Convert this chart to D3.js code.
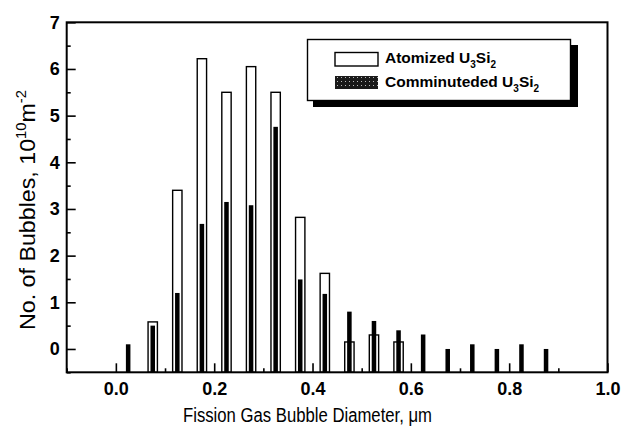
<!DOCTYPE html>
<html>
<head>
<meta charset="utf-8">
<script src="https://cdn.jsdelivr.net/npm/d3@7"></script>
<style>
  html, body { margin: 0; padding: 0; background: #fff; }
  svg { display: block; font-family: "Liberation Sans", Arial, sans-serif; }
</style>
</head>
<body>
<svg id="chart" width="622" height="432"></svg>
<script>
// ---- data ----
const binCenters = [0.025, 0.075, 0.125, 0.175, 0.225, 0.275, 0.325, 0.375, 0.425,
                    0.475, 0.525, 0.575, 0.625, 0.675, 0.725, 0.775, 0.825, 0.875];
const atomized   = [null, 0.58, 3.4, 6.22, 5.5, 6.05, 5.5, 2.82, 1.62,
                    0.15, 0.3, 0.15, null, null, null, null, null, null];
const comminuted = [0.1, 0.5, 1.2, 2.68, 3.15, 3.08, 4.76, 1.49, 1.18,
                    0.8, 0.6, 0.4, 0.31, 0.0, 0.1, 0.0, 0.1, 0.0];
const xTicks = [0.0, 0.2, 0.4, 0.6, 0.8, 1.0];
const xMinorTicks = [-0.1, 0.1, 0.3, 0.5, 0.7, 0.9];
const yTicks = [0, 1, 2, 3, 4, 5, 6, 7];
const yMinorTicks = [-0.5, 0.5, 1.5, 2.5, 3.5, 4.5, 5.5, 6.5];
const seriesNames = ["Atomized", "Comminuteded"];

// ---- layout ----
const svg = d3.select("#chart");
const L = 66.7, R = 607.5, T = 22.3, B = 372.3;
const x = d3.scaleLinear().domain([-0.1, 1.0]).range([L, R]);
const y = d3.scaleLinear().domain([-0.5, 7]).range([B, T]);

// defs: halftone pattern for legend swatch
const defs = svg.append("defs");
const pat = defs.append("pattern").attr("id", "dots").attr("width", 4).attr("height", 4)
  .attr("patternUnits", "userSpaceOnUse");
pat.append("rect").attr("width", 4).attr("height", 4).attr("fill", "#1a1a1a");
pat.append("rect").attr("x", 1).attr("y", 1).attr("width", 1).attr("height", 1).attr("fill", "#bbb");

// ---- bars ----
const openW = x(0.019) - x(0);
const solidW = x(0.0092) - x(0);
const gBars = svg.append("g");
binCenters.forEach((c, i) => {
  const v = atomized[i];
  if (v !== null) {
    gBars.append("rect")
      .attr("x", x(c) - openW / 2).attr("y", y(v))
      .attr("width", openW).attr("height", y(-0.5) - y(v))
      .attr("fill", "#fff").attr("stroke", "#000").attr("stroke-width", 1.4);
  }
});
binCenters.forEach((c, i) => {
  const v = comminuted[i];
  if (v !== null) {
    gBars.append("rect")
      .attr("x", x(c) - solidW / 2).attr("y", y(v))
      .attr("width", solidW).attr("height", y(-0.5) - y(v))
      .attr("fill", "#000");
  }
});

// ---- axes ----
const ax = svg.append("g").attr("stroke", "#000").attr("fill", "none");
ax.append("rect").attr("x", L).attr("y", T).attr("width", R - L).attr("height", B - T)
  .attr("stroke-width", 2);

const xAxis = d3.axisBottom(x).tickValues(xTicks).tickSize(-9).tickFormat(d3.format(".1f"));
const gx = svg.append("g").attr("transform", `translate(0,${B})`).call(xAxis);
gx.select(".domain").remove();
gx.selectAll(".tick line").attr("stroke-width", 1.6);
gx.selectAll(".tick text").attr("y", 10).attr("font-size", 18).attr("font-weight", "bold")
  .attr("font-family", "Liberation Sans, Arial, sans-serif").attr("fill", "#000");
const gxm = svg.append("g").attr("transform", `translate(0,${B})`)
  .call(d3.axisBottom(x).tickValues(xMinorTicks).tickSize(-4).tickFormat(""));
gxm.select(".domain").remove();
gxm.selectAll(".tick line").attr("stroke-width", 1.6);

const yAxis = d3.axisLeft(y).tickValues(yTicks).tickSize(-9).tickFormat(d3.format("d"));
const gy = svg.append("g").attr("transform", `translate(${L},0)`).call(yAxis);
gy.select(".domain").remove();
gy.selectAll(".tick line").attr("stroke-width", 1.6);
gy.selectAll(".tick text").attr("x", -7).attr("font-size", 18).attr("font-weight", "bold")
  .attr("font-family", "Liberation Sans, Arial, sans-serif").attr("fill", "#000");
const gym = svg.append("g").attr("transform", `translate(${L},0)`)
  .call(d3.axisLeft(y).tickValues(yMinorTicks).tickSize(-4).tickFormat(""));
gym.select(".domain").remove();
gym.selectAll(".tick line").attr("stroke-width", 1.6);

// ---- axis titles ----
svg.append("text").attr("x", (183 + 432) / 2).attr("y", 422)
  .attr("text-anchor", "middle").attr("font-size", 20).attr("fill", "#000")
  .attr("textLength", 249).attr("lengthAdjust", "spacingAndGlyphs")
  .text("Fission Gas Bubble Diameter, \u03bcm");

const yt = svg.append("text").attr("transform", "translate(35,210) rotate(-90)")
  .attr("text-anchor", "middle").attr("font-size", 22).attr("fill", "#000")
  .attr("textLength", 240).attr("lengthAdjust", "spacingAndGlyphs");
yt.append("tspan").text("No. of Bubbles, 10");
yt.append("tspan").attr("dy", -9).attr("font-size", 14).text("10");
yt.append("tspan").attr("dy", 9).text("m");
yt.append("tspan").attr("dy", -9).attr("font-size", 14).text("-2");

// ---- legend ----
const lg = svg.append("g");
lg.append("rect").attr("x", 313).attr("y", 45).attr("width", 265).attr("height", 62).attr("fill", "#000");
lg.append("rect").attr("x", 307.5).attr("y", 39.5).attr("width", 263).attr("height", 61)
  .attr("fill", "#fff").attr("stroke", "#000").attr("stroke-width", 1.4);
lg.append("rect").attr("x", 335).attr("y", 52.5).attr("width", 43).attr("height", 13.5)
  .attr("fill", "#fff").attr("stroke", "#000").attr("stroke-width", 1.4);
lg.append("rect").attr("x", 335).attr("y", 76).attr("width", 43).attr("height", 13)
  .attr("fill", "url(#dots)");

function legendLabel(name, yBase) {
  const t = lg.append("text").attr("x", 385).attr("y", yBase)
    .attr("font-size", 15.5).attr("font-weight", "bold").attr("fill", "#000");
  t.append("tspan").text(name + " U");
  t.append("tspan").attr("dy", 5).attr("font-size", 10).text("3");
  t.append("tspan").attr("dy", -5).text("Si");
  t.append("tspan").attr("dy", 5).attr("font-size", 10).text("2");
}
legendLabel(seriesNames[0], 62.5);
legendLabel(seriesNames[1], 86.5);
</script>
</body>
</html>
